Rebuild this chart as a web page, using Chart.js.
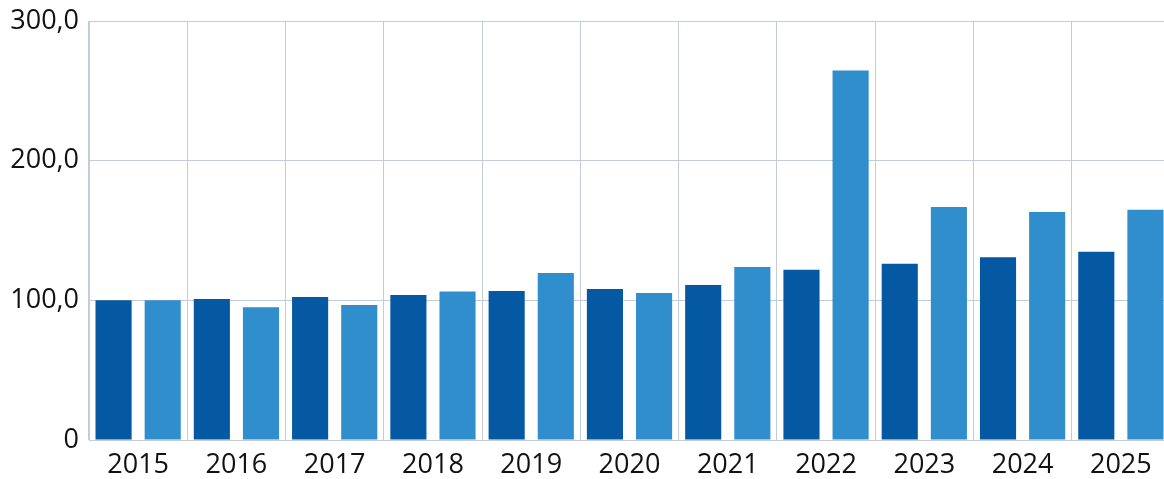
<!DOCTYPE html>
<html>
<head>
<meta charset="utf-8">
<script src="https://cdn.jsdelivr.net/npm/chart.js@4/dist/chart.umd.min.js"></script>
<style>
  html, body { margin: 0; padding: 0; background: #fff; overflow: hidden; }
  #wrap { position: relative; width: 1170px; height: 479px; }
</style>
</head>
<body>
<div id="wrap"><canvas id="chart"></canvas></div>
<script>
// years on the x axis
const years = ['2015', '2016', '2017', '2018', '2019', '2020', '2021', '2022', '2023', '2024', '2025'];
// dark series
const seriesA = [100.0, 101.0, 102.4, 103.9, 106.7, 108.1, 111.0, 121.9, 126.2, 130.8, 134.8];
// light series
const seriesB = [100.0, 95.0, 96.7, 106.4, 119.6, 105.3, 123.9, 264.6, 166.9, 163.3, 164.9];
// y tick values shown
const yTicks = [0, 100, 200, 300];

const FONT = "'Open Sans', 'Noto Sans', sans-serif";

new Chart(document.getElementById('chart').getContext('2d'), {
  type: 'bar',
  data: {
    labels: years,
    datasets: [
      { data: seriesA, backgroundColor: '#0459a2', categoryPercentage: 1, barPercentage: 0.735 },
      { data: seriesB, backgroundColor: '#318ecd', categoryPercentage: 1, barPercentage: 0.735 }
    ]
  },
  options: {
    responsive: true,
    maintainAspectRatio: false,
    animation: false,
    layout: { padding: 0 },
    plugins: { legend: { display: false }, tooltip: { enabled: false } },
    scales: {
      x: {
        grid: { color: '#c3ccd9', drawTicks: false, offset: true },
        border: { color: '#c3ccd9' },
        ticks: { color: '#111', font: { family: FONT, size: 27 }, padding: 9 },
        afterFit: s => { s.height = 39; s.paddingLeft = 0; s.paddingRight = 0; }
      },
      y: {
        min: 0, max: 300,
        afterBuildTicks: s => { s.ticks = yTicks.map(v => ({ value: v })); },
        grid: { color: '#c3ccd9', drawTicks: false },
        border: { color: '#c3ccd9' },
        ticks: {
          color: '#111', font: { family: FONT, size: 27 }, padding: 10,
          callback: v => v === 0 ? '0' : v.toFixed(1).replace('.', ',')
        },
        afterFit: s => { s.width = 89; s.paddingTop = 21; s.paddingBottom = 0; }
      }
    }
  }
});
</script>
</body>
</html>
